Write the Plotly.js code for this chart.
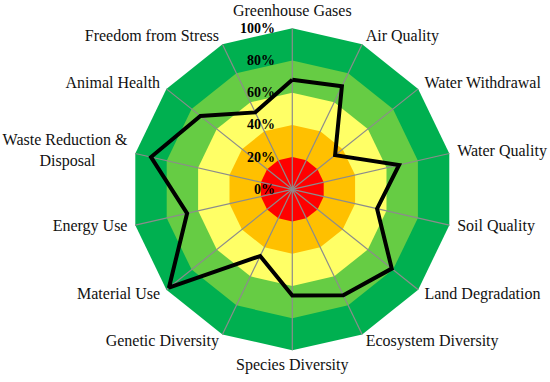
<!DOCTYPE html>
<html>
<head>
<meta charset="utf-8">
<script src="https://cdn.plot.ly/plotly-3.0.1.min.js"></script>
<style>html,body{margin:0;padding:0;background:#fff;}#chart{width:550px;height:382px;}</style>
</head>
<body>
<div id="chart"></div>
<script>
const categories = ["Greenhouse Gases","Air Quality","Water Withdrawal","Water Quality","Soil Quality","Land Degradation","Ecosystem Diversity","Species Diversity","Genetic Diversity","Material Use","Energy Use","Waste Reduction &","Animal Health","Freedom from Stress"];
const categoryLabels = ["Greenhouse Gases","Air Quality","Water Withdrawal","Water Quality","Soil Quality","Land Degradation","Ecosystem Diversity","Species Diversity","Genetic Diversity","Material Use","Energy Use","Waste Reduction &<br>Disposal\u00a0\u00a0\u00a0\u00a0\u00a0\u00a0\u00a0\u00a0","Animal Health","Freedom from Stress"];
const scores = [0.68, 0.71, 0.34, 0.68, 0.54, 0.79, 0.73, 0.66, 0.46, 0.98, 0.67, 0.90, 0.73, 0.53];
const bandLevels = [1.0, 0.8, 0.6, 0.4, 0.2];
const bandColors = ["#00B050", "#66CC44", "#FFFF66", "#FFC000", "#FF0000"];
const tickVals = [0, 0.2, 0.4, 0.6, 0.8, 1.0];
const tickText = ["0%", "20%", "40%", "60%", "80%", "100%"];

const n = categories.length;
const closedTheta = categories.concat([categories[0]]);
const traces = [];
bandLevels.forEach((lv, i) => {
  traces.push({
    type: "scatterpolar", mode: "lines",
    r: closedTheta.map(() => lv), theta: closedTheta,
    fill: "toself", fillcolor: bandColors[i],
    line: {width: 0, color: bandColors[i]}, hoverinfo: "skip", showlegend: false
  });
});
// spokes
const spokeR = [], spokeT = [];
categories.forEach(c => { spokeR.push(0, bandLevels[0], null); spokeT.push(c, c, c); });
traces.push({
  type: "scatterpolar", mode: "lines", r: spokeR, theta: spokeT,
  line: {color: "#8C8C8C", width: 1.2}, connectgaps: false, hoverinfo: "skip", showlegend: false
});
traces.push({
  type: "scatterpolar", mode: "markers", r: [0], theta: [categories[0]],
  marker: {color: "#8C8C8C", size: 7}, hoverinfo: "skip", showlegend: false
});
traces.push({
  type: "scatterpolar", mode: "lines",
  r: scores.concat([scores[0]]), theta: closedTheta,
  line: {color: "#000000", width: 4, shape: "linear"}, showlegend: false
});
// category labels, placed just outside the outer ring
const labelPos = categories.map((c, i) => {
  const a = Math.PI / 2 - i * 2 * Math.PI / n;
  const cx = Math.cos(a);
  if (Math.abs(cx) < 0.1) return Math.sin(a) > 0 ? "top center" : "bottom center";
  return cx > 0 ? "middle right" : "middle left";
});
traces.push({
  type: "scatterpolar", mode: "text",
  r: categories.map(() => bandLevels[0] * 1.05), theta: categories,
  text: categoryLabels, textposition: labelPos,
  textfont: {family: "Liberation Serif, serif", size: 16, color: "#111111"},
  hoverinfo: "skip", showlegend: false, cliponaxis: false
});

const layout = {
  width: 550, height: 382,
  margin: {l: 0, r: 0, t: 0, b: 0},
  paper_bgcolor: "#ffffff",
  showlegend: false,
  font: {family: "Liberation Serif, serif", color: "#111111", size: 16},
  polar: {
    domain: {x: [0.2211, 0.8418], y: [0.0576, 0.9513]},
    bgcolor: "rgba(0,0,0,0)",
    gridshape: "linear",
    radialaxis: {
      range: [0, 1.06], angle: 90, tickangle: 90,
      tickvals: tickVals, ticktext: tickText,
      showgrid: false, showline: false,
      ticks: "outside", ticklen: 12, tickcolor: "rgba(0,0,0,0)",
      tickfont: {family: "Liberation Serif, serif", size: 14, color: "#000", weight: "bold"},
      side: "counterclockwise", layer: "above traces"
    },
    angularaxis: {
      direction: "clockwise", rotation: 90,
      showgrid: false, showline: false, showticklabels: false, ticks: ""
    }
  }
};
Plotly.newPlot("chart", traces, layout, {displayModeBar: false, staticPlot: true});
</script>
</body>
</html>
